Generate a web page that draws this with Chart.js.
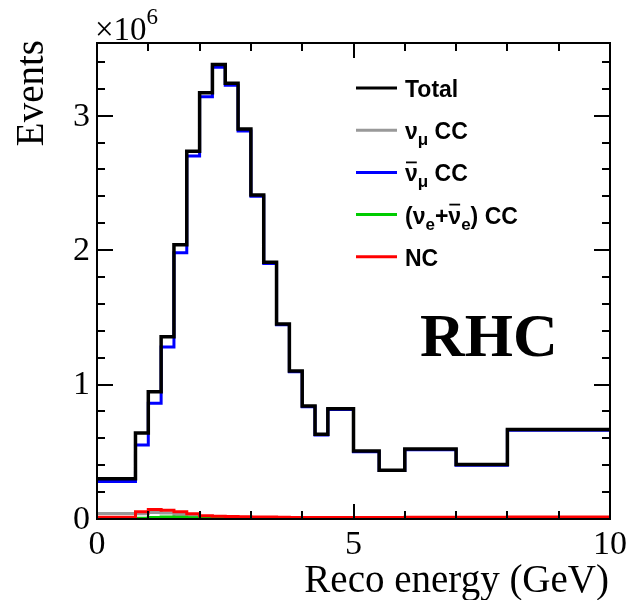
<!DOCTYPE html>
<html>
<head>
<meta charset="utf-8">
<script src="https://cdn.jsdelivr.net/npm/chart.js@4.4.0/dist/chart.umd.min.js"></script>
<style>
  body { margin: 0; background: #fff; }
  canvas { display: block; }
</style>
</head>
<body>
<canvas id="recoChart" width="628" height="600"></canvas>
<script>
// bin edges in GeV (variable width binning)
const binEdges = [0, 0.75, 1, 1.25, 1.5, 1.75, 2, 2.25, 2.5, 2.75, 3, 3.25, 3.5, 3.75, 4, 4.25, 4.5, 5, 5.5, 6, 7, 8, 10];

// events per bin, in units of 10^6
const totalEvents = [0.30, 0.64, 0.946, 1.355, 2.04, 2.735, 3.17, 3.38, 3.24, 2.90, 2.41, 1.91, 1.45, 1.10, 0.84, 0.63, 0.82, 0.505, 0.363, 0.52, 0.405, 0.665];
const numuBarCC = [0.278, 0.55, 0.86, 1.28, 1.98, 2.70, 3.14, 3.36, 3.225, 2.885, 2.40, 1.90, 1.445, 1.095, 0.835, 0.625, 0.815, 0.50, 0.36, 0.515, 0.40, 0.66];
const numuCC = [0.040, 0.039, 0.048, 0.045, 0.033, 0.025, 0.018, 0.015, 0.013, 0.012, 0.012, 0.012, 0.011, 0.010, 0.010, 0.010, 0.010, 0.009, 0.009, 0.009, 0.008, 0.008];
const nueCC = [0.002, 0.006, 0.012, 0.014, 0.013, 0.010, 0.007, 0.005, 0.004, 0.003, 0.003, 0.002, 0.002, 0.002, 0.002, 0.002, 0.001, 0.001, 0.001, 0.001, 0.001, 0.001];
const ncEvents = [0.013, 0.053, 0.070, 0.065, 0.053, 0.039, 0.024, 0.020, 0.018, 0.016, 0.015, 0.014, 0.013, 0.012, 0.012, 0.012, 0.012, 0.012, 0.012, 0.013, 0.013, 0.014];

const xTickLabels = [0, 5, 10];
const yTickLabels = [0, 1, 2, 3];

// turn bin contents into points for a stepped line
function histPoints(vals) {
    const pts = vals.map((v, i) => ({ x: binEdges[i], y: v }));
    pts.push({ x: binEdges[binEdges.length - 1], y: vals[vals.length - 1] });
    return pts;
}

const serif = '"Liberation Serif", "Times New Roman", serif';
const sans = '"Liberation Sans", Arial, sans-serif';

// legend rows: pieces of text, some as subscript or with a bar over them
const legendRows = [
    { color: '#000000', parts: [{ t: 'Total' }] },
    { color: '#999999', parts: [{ t: 'ν' }, { t: 'μ', sub: true }, { t: ' CC' }] },
    { color: '#0000ff', parts: [{ t: 'ν', bar: true }, { t: 'μ', sub: true }, { t: ' CC' }] },
    { color: '#00cc00', parts: [{ t: '(ν' }, { t: 'e', sub: true }, { t: '+' }, { t: 'ν', bar: true }, { t: 'e', sub: true }, { t: ') CC' }] },
    { color: '#ff0000', parts: [{ t: 'NC' }] }
];

const framePlugin = {
    id: 'framePlugin',
    beforeDraw(chart) {
        const ctx = chart.ctx;
        ctx.save();
        ctx.fillStyle = '#fff';
        ctx.fillRect(0, 0, chart.width, chart.height);
        ctx.restore();
    },
    afterDatasetsDraw(chart) {
        const ctx = chart.ctx;
        const a = chart.chartArea;
        const xs = chart.scales.x;
        const ys = chart.scales.y;
        ctx.save();
        ctx.strokeStyle = '#000';
        ctx.lineWidth = 2;
        ctx.strokeRect(a.left, a.top, a.right - a.left, a.bottom - a.top);

        // ticks pointing inwards on all four sides
        ctx.lineWidth = 2;
        ctx.beginPath();
        for (let v = 0; v <= 10; v++) {
            const px = Math.round(xs.getPixelForValue(v));
            const len = (v % 5 === 0) ? 15 : 8;
            ctx.moveTo(px, a.bottom); ctx.lineTo(px, a.bottom - len);
            ctx.moveTo(px, a.top); ctx.lineTo(px, a.top + len);
        }
        for (let k = 0; k * 0.2 <= ys.max + 1e-9; k++) {
            const py = Math.round(ys.getPixelForValue(k * 0.2));
            const len = (k % 5 === 0) ? 16 : 8;
            ctx.moveTo(a.left, py); ctx.lineTo(a.left + len, py);
            ctx.moveTo(a.right, py); ctx.lineTo(a.right - len, py);
        }
        ctx.stroke();

        // tick labels
        ctx.fillStyle = '#000';
        ctx.font = '34px ' + serif;
        ctx.textAlign = 'center';
        ctx.textBaseline = 'alphabetic';
        xTickLabels.forEach(v => ctx.fillText(String(v), xs.getPixelForValue(v), 554));
        ctx.textAlign = 'right';
        ctx.textBaseline = 'middle';
        yTickLabels.forEach(v => ctx.fillText(String(v), 90, ys.getPixelForValue(v) + 1));

        // exponent above the y axis
        ctx.textAlign = 'left';
        ctx.textBaseline = 'alphabetic';
        ctx.font = '33px ' + serif;
        ctx.fillText('×10', 95, 40);
        const w10 = ctx.measureText('×10').width;
        ctx.font = '23px ' + serif;
        ctx.fillText('6', 95 + w10, 24);

        // axis titles
        ctx.font = '39px ' + serif;
        ctx.textAlign = 'right';
        ctx.fillText('Reco energy (GeV)', 609, 592);
        ctx.save();
        ctx.translate(43, 40);
        ctx.rotate(-Math.PI / 2);
        ctx.fillText('Events', 0, 0);
        ctx.restore();

        // beam mode tag
        ctx.font = 'bold 62px ' + serif;
        ctx.textAlign = 'left';
        ctx.fillText('RHC', 420, 356);

        // legend
        const lx0 = 356, lx1 = 397, tx = 405;
        legendRows.forEach((row, i) => {
            const y = 88 + i * 42.2;
            ctx.strokeStyle = row.color;
            ctx.lineWidth = 3;
            ctx.beginPath();
            ctx.moveTo(lx0, y); ctx.lineTo(lx1, y);
            ctx.stroke();
            let x = tx;
            ctx.fillStyle = '#000';
            row.parts.forEach(p => {
                ctx.font = p.sub ? 'bold 17px ' + sans : 'bold 23px ' + sans;
                const base = p.sub ? y + 15 : y + 9;
                ctx.fillText(p.t, x, base);
                const w = ctx.measureText(p.t).width;
                if (p.bar) {
                    ctx.strokeStyle = '#000';
                    ctx.lineWidth = 1.8;
                    ctx.beginPath();
                    ctx.moveTo(x + 1, y - 10); ctx.lineTo(x + w - 1, y - 10);
                    ctx.stroke();
                }
                x += w;
            });
        });
        ctx.restore();
    }
};

function makeSet(label, vals, color, width, order) {
    return {
        label: label,
        data: histPoints(vals),
        borderColor: color,
        borderWidth: width,
        // horizontal at the bin content first, then the vertical step
        stepped: 'before',
        pointRadius: 0,
        fill: false,
        order: order
    };
}

document.addEventListener('DOMContentLoaded', function() {
    const ctx = document.getElementById('recoChart');
    new Chart(ctx, {
        type: 'line',
        data: {
            datasets: [
                makeSet('Total', totalEvents, '#000000', 3.5, 0),
                makeSet('numu CC', numuCC, '#999999', 3, 4),
                makeSet('numubar CC', numuBarCC, '#0000ff', 3, 1),
                makeSet('nue+nuebar CC', nueCC, '#00cc00', 3, 3),
                makeSet('NC', ncEvents, '#ff0000', 3, 2)
            ]
        },
        options: {
            responsive: false,
            animation: false,
            devicePixelRatio: 1,
            layout: { padding: { left: 97, right: 18, top: 43, bottom: 81 } },
            scales: {
                x: { type: 'linear', min: 0, max: 10, display: false },
                y: { type: 'linear', min: 0, max: 3.54, display: false }
            },
            plugins: {
                legend: { display: false },
                tooltip: { enabled: false }
            }
        },
        plugins: [framePlugin]
    });
});
</script>
</body>
</html>
